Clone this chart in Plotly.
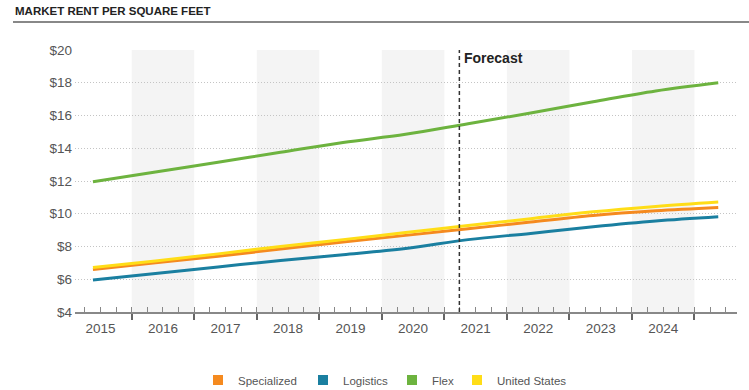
import plotly.graph_objects as go

# ---- data ----
years = [2015, 2016, 2017, 2018, 2019, 2020, 2021, 2022, 2023, 2024]
# observation positions (fractional years)
x_pos = [2015.38, 2016.38, 2017.38, 2018.38, 2019.38, 2020.38,
         2021.38, 2022.38, 2023.38, 2024.38, 2025.38]
specialized = [6.60, 7.00, 7.40, 7.85, 8.28, 8.68, 9.08, 9.50, 9.90, 10.18, 10.38]
logistics = [5.95, 6.35, 6.75, 7.15, 7.50, 7.88, 8.42, 8.80, 9.20, 9.55, 9.81]
flex = [11.95, 12.55, 13.15, 13.75, 14.35, 14.85, 15.50, 16.15, 16.84, 17.50, 18.00]
united_states = [6.72, 7.12, 7.55, 8.00, 8.42, 8.85, 9.28, 9.70, 10.12, 10.45, 10.72]
forecast_x = 2021.24
y_ticks = [4, 6, 8, 10, 12, 14, 16, 18, 20]
y_tick_text = ["$" + str(v) for v in y_ticks]

series = [
    ("Specialized", specialized, "#F58A1F"),
    ("Logistics", logistics, "#1A7FA0"),
    ("Flex", flex, "#6DB33F"),
    ("United States", united_states, "#FFDD17"),
]

FONT = "Arial, Liberation Sans, sans-serif"
W, L, R = 749, 75, 12
PW = W - L - R
fig = go.Figure()

for name, vals, col in series:
    fig.add_trace(go.Scatter(x=x_pos, y=vals, mode="lines", name=name,
                             line=dict(color=col, width=3, shape="spline"),
                             showlegend=False, hoverinfo="skip"))

legend_centers = [218, 323, 412, 477]  # pixel x of legend squares
legend_layouts = {}
for i, ((name, vals, col), cx) in enumerate(zip(series, legend_centers)):
    lname = "legend" if i == 0 else f"legend{i + 1}"
    fig.add_trace(go.Scatter(x=[None], y=[None], mode="markers", name=name,
                             marker=dict(color=col, symbol="square", size=10),
                             legend=lname))
    legend_layouts[lname] = dict(
        x=(cx - 20 - L) / PW, xanchor="left", xref="paper",
        y=1 - 380 / 390, yanchor="middle", yref="container",
        orientation="h", bgcolor="rgba(0,0,0,0)", borderwidth=0,
        font=dict(size=11.5, color="#555", family=FONT))

# dummy trace for label axis
fig.add_trace(go.Scatter(x=[2015.5], y=[None], xaxis="x2", showlegend=False,
                         hoverinfo="skip", mode="markers"))

xr = [2015.093, 2025.68]

shapes = []
for yr in years:
    if yr % 2 == 0:
        shapes.append(dict(type="rect", xref="x", yref="paper", x0=yr, x1=yr + 1,
                           y0=0, y1=1, fillcolor="#F4F4F4", line_width=0, layer="below"))
shapes.append(dict(type="line", xref="x", yref="y", x0=forecast_x, x1=forecast_x,
                   y0=4, y1=20.1, line=dict(color="#333", width=1.5, dash="4px,3px")))
shapes.append(dict(type="line", xref="paper", yref="paper", x0=(13 - L) / PW, x1=1.02,
                   y0=1.107, y1=1.107, line=dict(color="#888", width=2)))

fig.update_layout(
    width=W, height=390,
    margin=dict(l=L, r=R, t=50, b=78),
    paper_bgcolor="white", plot_bgcolor="white",
    font=dict(family=FONT, color="#555", size=13),
    shapes=shapes,
    xaxis=dict(range=xr, showgrid=False, zeroline=False, automargin=False,
               showline=True, linecolor="#888", linewidth=1.5,
               tickvals=list(range(2016, 2026)), ticktext=[""] * 10,
               ticks="outside", ticklen=6, tickwidth=1.5, tickcolor="#666",
               minor=dict(ticks="inside", ticklen=5, dtick=0.25, tick0=2015,
                          tickcolor="#888", tickwidth=1, showgrid=False)),
    xaxis2=dict(range=xr, overlaying="x", anchor="y", side="bottom",
                showgrid=False, zeroline=False, showline=False, automargin=False,
                tickvals=[y + 0.5 for y in years], ticktext=[str(y) for y in years],
                ticks="", ticklabelstandoff=6, tickfont=dict(size=13.5, color="#555")),
    yaxis=dict(range=[4, 20], tickvals=y_ticks, ticktext=y_tick_text,
               showgrid=True, gridcolor="#C4C4C4", griddash="1px,2px", gridwidth=1,
               zeroline=False, showline=False, ticks="", ticklabelstandoff=2,
               automargin=False, tickfont=dict(size=13.5, color="#555")),
    annotations=[
        dict(text="<b>MARKET RENT PER SQUARE FEET</b>", xref="paper", yref="paper",
             x=(13 - L) / PW, y=1.148, xanchor="left", yanchor="middle", showarrow=False,
             font=dict(size=11.5, color="#222", family=FONT)),
        dict(text="<b>Forecast</b>", xref="x", yref="y", x=forecast_x, y=19.5,
             xanchor="left", yanchor="middle", xshift=3, showarrow=False,
             font=dict(size=14, color="#222", family=FONT)),
    ],
    **legend_layouts,
)

fig.write_html("out.html")
